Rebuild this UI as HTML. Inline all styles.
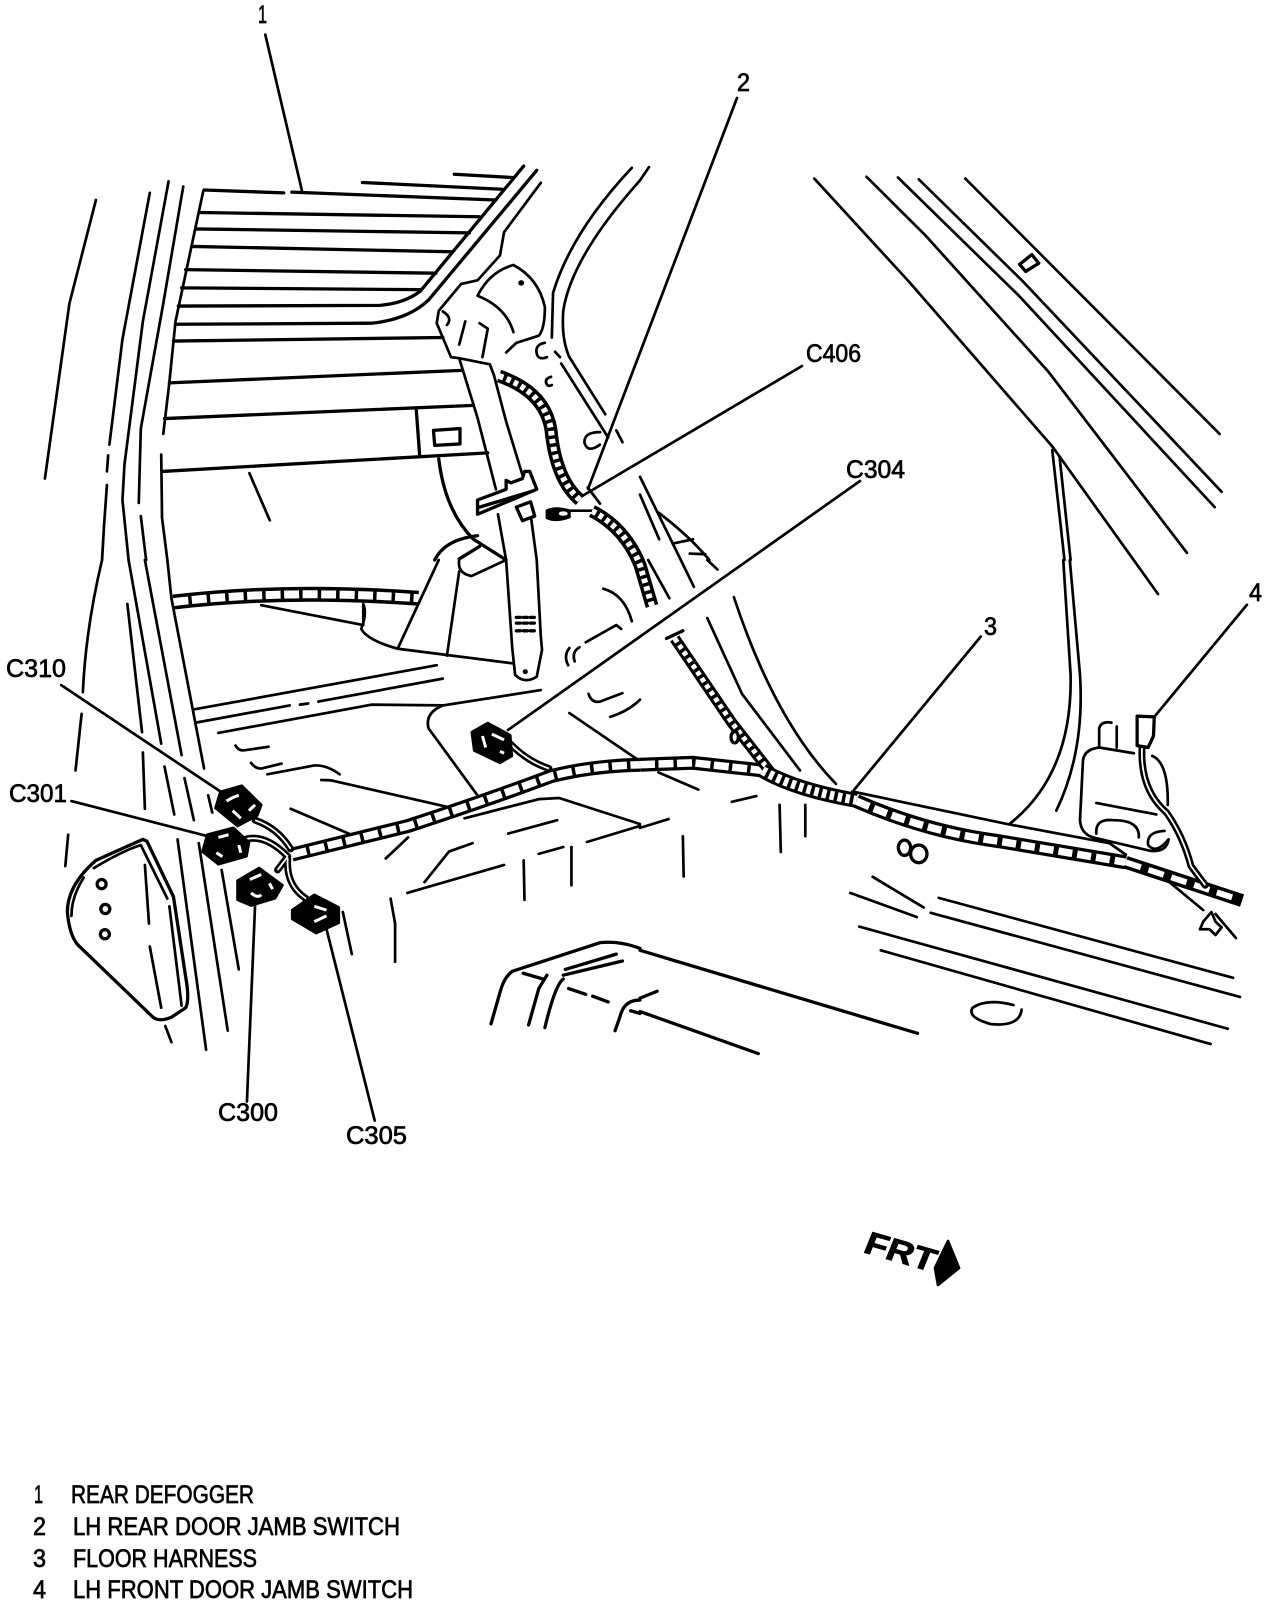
<!DOCTYPE html>
<html><head><meta charset="utf-8"><style>
html,body{margin:0;padding:0;background:#fff;width:1280px;height:1606px;overflow:hidden}
svg{display:block}
path,ellipse,circle{fill:none;stroke:#000;stroke-width:2.7;vector-effect:non-scaling-stroke;stroke-linecap:round;stroke-linejoin:round}
.t{stroke-width:3.3}
.k{fill:#000}
.w{fill:#fff}
.hw{stroke:#fff;stroke-linecap:butt;stroke-width:1.8}
.hb{stroke-width:15;stroke-linecap:butt}
.hd{stroke:#fff;stroke-width:8;stroke-dasharray:15 3.5;stroke-linecap:butt}
.rb{stroke-width:13;stroke-linecap:butt}
.rd{stroke:#fff;stroke-width:6;stroke-dasharray:4.5 3.5;stroke-linecap:butt}
text{font-family:"Liberation Sans",sans-serif;fill:#000;stroke:#000;stroke-width:.7}
</style></head><body>
<svg width="1280" height="1606" viewBox="0 0 1280 1606" xmlns="http://www.w3.org/2000/svg">
<rect width="1280" height="1606" fill="#fff"/>

<g transform="scale(.40816,.35714)">
<path d="M650,97L740,535"/>
<path class="t" d="M500,532L695,540M715,538L1215,560M888,511L1230,530M1113,488L1255,497"/>
<path class="t" d="M490,595L1175,607M480,641L1150,652M470,690L1105,705M455,755L1068,765M445,806L1030,811"/>
<path class="t" d="M437,857L930,855Q990,850 1030,815L1283,465M430,908L910,905Q1000,895 1050,840L1315,477"/>
<path class="t" d="M425,955L1085,945M415,1072L1132,1037M403,1172L1160,1135M398,1320L1195,1268"/>
<path class="t" d="M1020,1150L1028,1272M1062,1205L1127,1200L1127,1243L1065,1247Z"/>
<path d="M498,535L430,900L415,1070L400,1215M395,1273L397,1450L410,1568"/>
<path d="M449,522L400,850L345,1200L340,1408M345,1445L358,1568"/>
<path d="M413,508L350,900L305,1300L300,1400L315,1568"/>
<path d="M367,540L300,950L268,1245M265,1275L262,1320M262,1358L255,1470L250,1568"/>
<path d="M235,560L170,850L110,1340M611,1325L661,1457"/>
<path d="M1325,512L1235,650L1225,715L1170,785L1130,795L1075,870L1070,905L1105,1000L1125,1003L1200,1020L1210,1050"/>
<path d="M1258,742Q1200,760 1170,828Q1240,860 1258,930M1258,742Q1320,780 1335,860Q1335,920 1320,940L1265,960L1240,987"/>
<circle class="k" cx="1277" cy="792" r="4"/>
<path d="M1085,872Q1110,890 1095,910M1140,900L1125,965M1175,905L1195,920L1182,1000"/>
<path d="M1125,1003L1170,1170L1215,1370M1210,1050L1240,1180L1280,1330M1220,1440L1240,1568M1300,1440L1315,1568"/>
<path class="w t" d="M1170,1400L1240,1370L1240,1345L1252,1352L1280,1340L1285,1320L1298,1320L1315,1370L1170,1440Z"/>
<path class="t" d="M1175,1420L1305,1375"/>
<path class="w t" d="M1265,1420L1300,1405L1310,1445L1280,1458Z"/>
<path class="t" d="M1075,1285Q1090,1430 1160,1510L1240,1568M1170,1500Q1090,1510 1065,1568M1175,1530L1125,1565"/>
<path d="M1548,470Q1400,650 1355,820L1352,945M1568,505Q1400,720 1380,870Q1375,950 1395,1000L1483,1160M1375,1018L1490,1225M1360,985L1372,1000M1510,1205L1525,1238"/>
<path d="M1335,960Q1310,965 1315,990Q1320,1010 1340,1000M1350,1055Q1335,1060 1338,1072Q1342,1085 1352,1078M1470,1210Q1430,1210 1432,1240Q1440,1270 1470,1245"/>
<path class="k" d="M1340,1430Q1360,1418 1395,1430L1395,1448Q1360,1462 1340,1450Z"/>
<ellipse class="w" cx="1380" cy="1438" rx="11" ry="6" style="stroke:none"/>
<path d="M1395,1430L1450,1430M1440,1365L1470,1410"/>
</g>
<path d="M737,98L588,489M802,366L575.5,500M860,481L508,730M1052,446L1158,594"/>
<path class="rb" d="M499,376Q545,392 551,430Q556,480 580,500"/>
<path class="rd" d="M499,376Q545,392 551,430Q556,480 580,500"/>
<path class="rb" d="M592,511Q625,528 640,565L652,606"/>
<path class="rd" d="M592,511Q625,528 640,565L652,606"/>

<g transform="translate(640,0) scale(.40816,.35714)">
<path d="M427,500L660,790L1010,1250M555,495L700,660L1000,1040L1340,1548M632,497L930,830L1408,1420M683,502L940,790L1425,1377M797,500L1420,1215"/>
<path class="t" d="M930,740L960,713L977,737L945,760Z"/>
<path d="M1010,1260L1040,1568M1028,1280L1055,1568"/>
<path d="M0,1335L100,1568M0,1385L47,1510M45,1435Q120,1500 170,1568M22,468L0,505M80,1522L130,1510M122,1550L160,1552"/>
</g>

<g transform="translate(0,560) scale(.40816,.38265)">
<path class="hb" d="M425,110Q700,75 1025,100"/>
<path class="hd" d="M425,110Q700,75 1025,100"/>
<path d="M250,0Q210,180 203,345M200,402L185,550M167,718L160,800"/>
<path d="M312,115L348,450M315,0L395,480M355,0L445,510M410,0L420,100L500,545M350,503L355,650M403,540L427,665M452,570L475,680M510,615L520,660M435,730L505,1280M487,740L558,1230M543,810L585,1070M405,1218L420,1260"/>
<path class="t" d="M350,730L235,785Q165,850 165,920Q170,980 190,1005L375,1195Q390,1208 420,1195L455,1170Q465,1150 455,1090L425,880L360,735Z"/>
<path d="M230,805Q300,760 345,745L410,885M205,830Q175,880 175,930M355,797L365,950M367,1010L395,1170M415,905L445,1165"/>
<ellipse cx="249" cy="847" rx="11" ry="12" class="t"/><ellipse cx="258" cy="912" rx="11" ry="12" class="t"/><ellipse cx="257" cy="978" rx="11" ry="12" class="t"/>
<path d="M1075,0L975,230M1125,0Q1120,35 1155,42L1240,0M1125,30L1095,250M640,118L890,170L890,115Q900,140 885,180Q900,210 975,232L1255,270M1240,0L1255,230L1262,300Q1285,325 1315,305L1328,235L1325,200L1315,0"/>
<circle cx="1287" cy="292" r="3" class="k"/>
<path class="t" style="stroke-dasharray:4 3" d="M1265,150L1310,150M1265,165L1310,165M1265,185L1310,185"/>
<path d="M1070,275L478,390M1085,310L780,370M755,375L735,378M710,380L480,425M535,452L910,378L1085,380Q1040,400 1050,440L1180,630M1085,380L1325,340"/>
<path d="M577,485Q585,500 600,497L658,488M615,530Q625,545 640,545L690,532M655,560L770,537Q800,535 832,560M787,575Q810,575 820,578L1095,645M712,650L865,720"/>
<path d="M1138,675L1320,625L1370,622L1568,690M1245,715L1365,680M1438,737L1568,695M1320,768L1380,750M1400,750L1400,850M1283,785L1285,888M1235,797L998,870M1158,740L1100,762L1040,842M945,780L1000,725M957,885L968,950L968,1050M840,920L862,1030"/>
<path d="M1395,400L1560,520M1442,350Q1450,375 1470,370L1525,348M1495,410Q1540,395 1568,365M1478,75Q1530,90 1548,160M1522,180L1510,170L1435,215M1420,228Q1400,240 1408,265M1395,230Q1380,250 1392,275"/>
<path d="M150,327L540,605M175,630L510,722M625,900L605,1415M800,965L918,1465"/>
<path class="t" d="M1255,1075L1470,1000Q1520,995 1568,1015M1255,1075Q1235,1090 1225,1130L1203,1212M1282,1080L1330,1095M1340,1085L1320,1120L1295,1215M1393,1120L1435,1135M1452,1140L1490,1155M1385,1070L1510,1030M1380,1085L1525,1048M1380,1095Q1360,1110 1335,1222M1568,1150Q1530,1150 1520,1190L1507,1230M1545,1178L1568,1185"/>
<path class="hb" style="stroke-width:14" d="M715,770L1000,695Q1200,625 1350,565Q1450,538 1568,535"/>
<path class="hd" style="stroke-width:7.5" d="M715,770L1000,695Q1200,625 1350,565Q1450,538 1568,535"/>
<path style="stroke-width:7" d="M625,680Q680,700 712,755M600,730Q650,715 705,775M680,810L705,775M705,780Q700,850 750,885M1250,480Q1290,525 1345,545"/>
<path class="hw" d="M625,680Q680,700 712,755M600,730Q650,715 705,775M680,810L705,775M705,780Q700,850 750,885M1250,480Q1290,525 1345,545"/>
<path class="k" d="M540,606L592,590L640,640L630,668L582,695L528,648Z"/>
<path class="hw" style="stroke-width:3" d="M555,630Q570,620 585,615M570,655L590,675M610,655L625,640"/>
<path class="k" d="M508,718L572,700L610,738L604,774L535,795L496,762Z"/>
<path class="hw" style="stroke-width:3" d="M535,725L560,718M530,765L545,775M585,745L590,765"/>
<path class="k" d="M582,838L635,805L692,850L674,884L615,903L582,888Z"/>
<path class="hw" style="stroke-width:3" d="M612,835L640,822M615,870Q630,885 640,875M660,845L668,860"/>
<path class="k" d="M716,915L770,875L830,908L830,948L775,975L716,938Z"/>
<path class="hw" style="stroke-width:3" d="M770,905L800,915M770,945L800,930"/>
<path class="k" d="M1156,450L1195,426L1250,458L1254,512L1225,530L1162,498Z"/>
<path class="hw" style="stroke-width:3" d="M1182,460L1190,490M1205,455L1235,470M1225,500L1235,505"/>
</g>

<g transform="translate(640,560) scale(.40816,.38265)">
<path class="hb" style="stroke-width:14" d="M0,535L130,530L300,550"/>
<path class="hd" style="stroke-width:7.5" d="M0,535L130,530L300,550"/>
<path class="rb" style="stroke-width:11" d="M85,205L225,425L320,555"/>
<path class="rd" style="stroke-width:5" d="M85,205L225,425L320,555"/>
<path class="rb" style="stroke-width:15" d="M300,550Q380,600 530,628"/>
<path class="rd" style="stroke-width:9" d="M300,550Q380,600 530,628"/>
<path class="rb" style="stroke-width:14" d="M530,630Q700,710 880,735L1190,790"/>
<path class="hd" style="stroke-width:7.5;stroke-dasharray:14 5" d="M530,630Q700,710 880,735L1190,790"/>
<path class="rb" style="stroke-width:13" d="M1190,790L1475,890"/>
<path class="hd" style="stroke-width:6;stroke-dasharray:16 8" d="M1190,790L1460,885"/>
<path class="t" d="M65,205L105,185"/>
<ellipse cx="232" cy="463" rx="9" ry="15" class="w t"/>
<path d="M520,605L900,690L1150,740L1190,770"/>
<path d="M20,0L72,100M100,0L132,70M165,0L190,25"/>
<path d="M165,152L250,350L392,550M230,97Q330,420 480,585"/>
<path d="M835,200L525,600M1487,117L1260,410"/>
<path d="M1037,0L1055,300Q1060,560 905,690M1053,0L1078,300Q1090,500 1020,655"/>
<path d="M1125,490Q1085,495 1085,530L1078,680Q1080,715 1110,725L1250,760Q1290,765 1295,730M1125,490L1210,505M1255,512Q1295,530 1293,640M1125,485L1125,440Q1130,420 1155,425M1168,435L1168,490M1118,635L1265,665M1118,715Q1115,675 1160,680Q1225,680 1222,725M1285,708Q1240,710 1245,745Q1265,770 1295,730"/>
<path style="stroke-width:7" d="M1230,490Q1225,600 1290,660Q1330,720 1350,800L1385,850"/>
<path class="hw" d="M1230,490Q1225,600 1290,660Q1330,720 1350,800L1385,850"/>
<path class="w t" d="M1218,408L1260,410L1258,460L1245,490L1218,485Z"/>
<ellipse class="t" cx="648" cy="752" rx="15" ry="20"/>
<ellipse class="t" cx="683" cy="768" rx="20" ry="23"/>
<path d="M570,828L695,908M515,870L678,933M732,883L1453,1092M712,922L1470,1142M537,958L1440,1225M590,1020L1398,1265"/>
<path d="M915,1163Q850,1145 815,1170Q800,1195 860,1213Q930,1220 935,1175"/>
<path class="t" d="M0,1020L680,1237M0,1180L290,1290M0,1145L42,1127"/>
<path d="M45,555L143,600M225,632L285,617M0,700L70,677M105,722L107,827M342,640L345,763M405,640L405,722"/>
<path d="M1380,945L1400,920L1410,945L1425,960L1410,980L1395,965L1372,965ZM1295,840L1380,915M1410,925L1460,988"/>
</g>

<text x="258" y="23" font-size="25" textLength="9" lengthAdjust="spacingAndGlyphs">1</text>
<text x="737" y="91" font-size="25" textLength="13" lengthAdjust="spacingAndGlyphs">2</text>
<text x="806" y="362" font-size="25" textLength="55" lengthAdjust="spacingAndGlyphs">C406</text>
<text x="846" y="478" font-size="25" textLength="59" lengthAdjust="spacingAndGlyphs">C304</text>
<text x="6" y="677" font-size="25" textLength="60" lengthAdjust="spacingAndGlyphs">C310</text>
<text x="9" y="802" font-size="25" textLength="58" lengthAdjust="spacingAndGlyphs">C301</text>
<text x="218" y="1121" font-size="25" textLength="60" lengthAdjust="spacingAndGlyphs">C300</text>
<text x="346" y="1144" font-size="25" textLength="61" lengthAdjust="spacingAndGlyphs">C305</text>
<text x="984" y="635" font-size="25" textLength="13" lengthAdjust="spacingAndGlyphs">3</text>
<text x="1249" y="601" font-size="25" textLength="13" lengthAdjust="spacingAndGlyphs">4</text>

<text transform="translate(862,1252) rotate(16) skewX(-6)" font-size="32" font-weight="bold" textLength="72" lengthAdjust="spacingAndGlyphs" style="stroke-width:.8">FRT</text>
<path class="k" d="M948,1241L959,1268L938,1285L935,1268Z"/>

<g font-size="25">
<text x="34" y="1503" textLength="9" lengthAdjust="spacingAndGlyphs">1</text>
<text x="71" y="1503" textLength="183" lengthAdjust="spacingAndGlyphs">REAR DEFOGGER</text>
<text x="33" y="1535" textLength="13" lengthAdjust="spacingAndGlyphs">2</text>
<text x="73" y="1535" textLength="327" lengthAdjust="spacingAndGlyphs">LH REAR DOOR JAMB SWITCH</text>
<text x="33" y="1567" textLength="13" lengthAdjust="spacingAndGlyphs">3</text>
<text x="73" y="1567" textLength="184" lengthAdjust="spacingAndGlyphs">FLOOR HARNESS</text>
<text x="33" y="1598" textLength="13" lengthAdjust="spacingAndGlyphs">4</text>
<text x="73" y="1598" textLength="340" lengthAdjust="spacingAndGlyphs">LH FRONT DOOR JAMB SWITCH</text>
</g>
</svg>
</body></html>
